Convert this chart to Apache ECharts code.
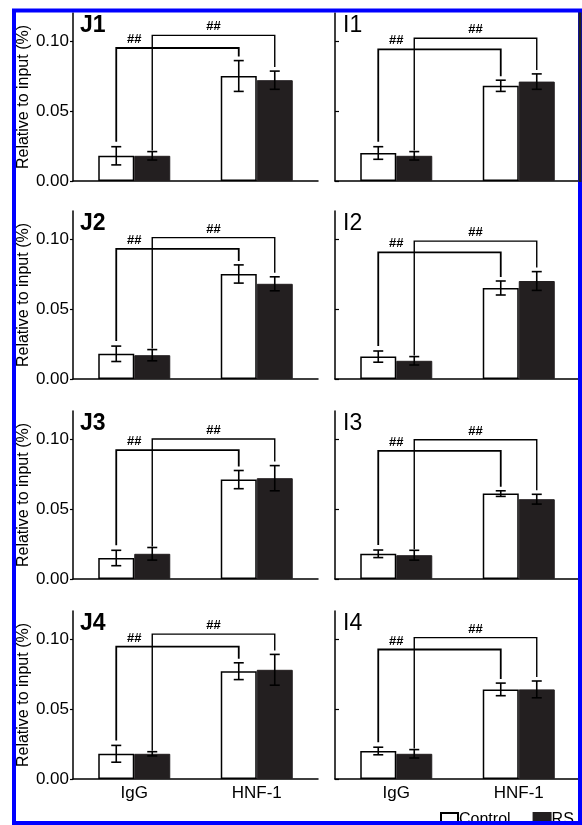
<!DOCTYPE html>
<html><head><meta charset="utf-8">
<script src="https://cdn.jsdelivr.net/npm/echarts@6/dist/echarts.min.js"></script>
<style>html,body{margin:0;padding:0;background:#fff}#c{width:582px;height:825px}</style>
</head><body><div id="c"></div>
<script>
// ---- data ----
const categories = ['IgG', 'HNF-1'];
const seriesNames = ['Control', 'RS'];
const yTicks = [0, 0.05, 0.10];
const yAxisName = 'Relative to input (%)';
const sigLabel = '##';
const panelLabels = ['J1', 'I1', 'J2', 'I2', 'J3', 'I3', 'J4', 'I4'];

const J1_control = [0.018, 0.075];
const J1_controlErr = [0.0065, 0.011];
const J1_rs = [0.018, 0.072];
const J1_rsErr = [0.003, 0.0065];
const J1_brackets = [0.095, 0.104];

const I1_control = [0.020, 0.068];
const I1_controlErr = [0.0045, 0.004];
const I1_rs = [0.018, 0.071];
const I1_rsErr = [0.003, 0.0055];
const I1_brackets = [0.094, 0.102];

const J2_control = [0.018, 0.075];
const J2_controlErr = [0.0055, 0.0065];
const J2_rs = [0.017, 0.068];
const J2_rsErr = [0.004, 0.005];
const J2_brackets = [0.093, 0.101];

const I2_control = [0.016, 0.065];
const I2_controlErr = [0.004, 0.005];
const I2_rs = [0.013, 0.070];
const I2_rsErr = [0.003, 0.0067];
const I2_brackets = [0.0905, 0.0985];

const J3_control = [0.015, 0.071];
const J3_controlErr = [0.0055, 0.0065];
const J3_rs = [0.018, 0.072];
const J3_rsErr = [0.0045, 0.009];
const J3_brackets = [0.092, 0.100];

const I3_control = [0.018, 0.061];
const I3_controlErr = [0.0027, 0.002];
const I3_rs = [0.017, 0.057];
const I3_rsErr = [0.0035, 0.0035];
const I3_brackets = [0.0915, 0.0995];

const J4_control = [0.018, 0.077];
const J4_controlErr = [0.006, 0.006];
const J4_rs = [0.018, 0.078];
const J4_rsErr = [0.0015, 0.011];
const J4_brackets = [0.0945, 0.1035];

const I4_control = [0.020, 0.064];
const I4_controlErr = [0.0027, 0.0045];
const I4_rs = [0.018, 0.064];
const I4_rsErr = [0.003, 0.006];
const I4_brackets = [0.0925, 0.101];

const panels = [
  [J1_control, J1_controlErr, J1_rs, J1_rsErr, J1_brackets],
  [I1_control, I1_controlErr, I1_rs, I1_rsErr, I1_brackets],
  [J2_control, J2_controlErr, J2_rs, J2_rsErr, J2_brackets],
  [I2_control, I2_controlErr, I2_rs, I2_rsErr, I2_brackets],
  [J3_control, J3_controlErr, J3_rs, J3_rsErr, J3_brackets],
  [I3_control, I3_controlErr, I3_rs, I3_rsErr, I3_brackets],
  [J4_control, J4_controlErr, J4_rs, J4_rsErr, J4_brackets],
  [I4_control, I4_controlErr, I4_rs, I4_rsErr, I4_brackets]
];

// ---- layout / style ----
const FONT = '"Liberation Sans", Arial, Helvetica, sans-serif';
const BAR_W = 36;
const HALF = BAR_W / 2;
const baselines = [181, 379, 579, 779];
const GRID_H = 168;
const GRID_W = 245;
const DARK = '#231f20';

function errRender(params, api) {
  const cat = api.value(0), m = api.value(1), e = api.value(2), which = api.value(3);
  const off = which === 0 ? -HALF : HALF;
  const cx = api.coord([cat, m])[0] + off;
  const yt = api.coord([cat, m + e])[1];
  const yb = api.coord([cat, m - e])[1];
  const cap = 5;
  const st = { stroke: '#000', lineWidth: 1.6, fill: null };
  return {
    type: 'group',
    children: [
      { type: 'line', shape: { x1: cx, y1: yt, x2: cx, y2: yb }, style: st },
      { type: 'line', shape: { x1: cx - cap, y1: yt, x2: cx + cap, y2: yt }, style: st },
      { type: 'line', shape: { x1: cx - cap, y1: yb, x2: cx + cap, y2: yb }, style: st }
    ]
  };
}

function bracketRender(params, api) {
  const h = api.value(1), igTop = api.value(2), hnTop = api.value(3), which = api.value(4);
  const off = which === 0 ? -HALF : HALF;
  const x1 = api.coord([0, h])[0] + off;
  const x2 = api.coord([1, h])[0] + off;
  const yh = api.coord([0, h])[1];
  const y1 = api.coord([0, igTop])[1] - (which === 0 ? 5 : 1);
  const y2 = api.coord([1, hnTop])[1] - 4;
  const labelX = which === 0 ? x1 + HALF : (x1 + x2) / 2;
  return {
    type: 'group',
    children: [
      { type: 'polyline', shape: { points: [[x1, y1], [x1, yh], [x2, yh], [x2, y2]] },
        style: { stroke: '#000', lineWidth: which === 0 ? 1.8 : 1.4, fill: null } },
      { type: 'text', style: { text: sigLabel, x: labelX, y: yh - 2, align: 'center', verticalAlign: 'bottom',
        textAlign: 'center', textVerticalAlign: 'bottom', font: 'bold 13px ' + FONT, fill: '#000' } }
    ]
  };
}

const grids = [], xAxes = [], yAxes = [], series = [], titles = [];
panels.forEach((p, i) => {
  const [ctrl, ctrlErr, rs, rsErr, br] = p;
  const row = Math.floor(i / 2), col = i % 2;
  const top = baselines[row] - GRID_H;
  const left = col === 0 ? 73 : 335;
  grids.push({ left: left, top: top, width: GRID_W, height: GRID_H });
  xAxes.push({
    type: 'category', gridIndex: i, data: categories,
    axisLine: { lineStyle: { color: '#000', width: 1.5 } },
    axisTick: { show: false },
    axisLabel: { show: row === 3, color: '#000', fontSize: 17, fontFamily: FONT, margin: 6 }
  });
  yAxes.push({
    type: 'value', gridIndex: i, min: 0, max: 0.12, interval: 0.05,
    name: col === 0 ? yAxisName : '',
    nameLocation: 'middle', nameGap: 41,
    nameTextStyle: { color: '#000', fontSize: 16, fontFamily: FONT },
    axisLine: { show: true, lineStyle: { color: '#000', width: 1.5 } },
    axisTick: { show: true, inside: col === 1, length: col === 0 ? 3 : 4, customValues: yTicks,
      lineStyle: { color: '#000', width: 1.2 } },
    axisLabel: { show: col === 0, customValues: yTicks, color: '#000', fontSize: 17, fontFamily: FONT, margin: 4,
      formatter: v => v.toFixed(2) },
    splitLine: { show: false }
  });
  titles.push({
    text: panelLabels[i], left: col === 0 ? 80 : 343, top: top + 1, padding: 0,
    textStyle: { fontSize: 23, fontWeight: col === 0 ? 'bold' : 'normal', color: '#000', fontFamily: FONT }
  });
  series.push({
    type: 'bar', name: seriesNames[0], xAxisIndex: i, yAxisIndex: i, data: ctrl,
    barWidth: BAR_W, barGap: '0%',
    itemStyle: { color: '#fff', borderColor: '#000', borderWidth: 1.5 }, z: 2
  });
  series.push({
    type: 'bar', name: seriesNames[1], xAxisIndex: i, yAxisIndex: i, data: rs,
    barWidth: BAR_W, barGap: '0%',
    itemStyle: { color: DARK, borderColor: DARK, borderWidth: 1 }, z: 2
  });
  series.push({
    type: 'custom', xAxisIndex: i, yAxisIndex: i, renderItem: errRender, z: 3,
    encode: { x: 0, y: 1 }, silent: true,
    data: [
      [0, ctrl[0], ctrlErr[0], 0], [1, ctrl[1], ctrlErr[1], 0],
      [0, rs[0], rsErr[0], 1], [1, rs[1], rsErr[1], 1]
    ]
  });
  series.push({
    type: 'custom', xAxisIndex: i, yAxisIndex: i, renderItem: bracketRender, z: 4,
    encode: { x: 0, y: 1 }, silent: true,
    data: [
      [0, br[0], ctrl[0] + ctrlErr[0], ctrl[1] + ctrlErr[1], 0],
      [0, br[1], rs[0] + rsErr[0], rs[1] + rsErr[1], 1]
    ]
  });
});

const chart = echarts.init(document.getElementById('c'), null, { renderer: 'canvas' });
chart.setOption({
  animation: false,
  backgroundColor: '#fff',
  title: titles,
  grid: grids,
  xAxis: xAxes,
  yAxis: yAxes,
  legend: {
    data: seriesNames, left: 440, top: 812, width: 220, padding: 0, orient: 'horizontal',
    itemWidth: 17, itemHeight: 14, itemGap: 22,
    icon: 'rect', selectedMode: false,
    textStyle: { fontSize: 16, color: '#000', fontFamily: FONT, padding: [0, 0, 0, -4] }
  },
  graphic: [
    { type: 'rect', z: 100, shape: { x: 14, y: 10.5, width: 566, height: 812.5 },
      style: { fill: null, stroke: '#0000ff', lineWidth: 4 } },
    { type: 'rect', z: 99, shape: { x: 582, y: 0, width: 20, height: 825 },
      style: { fill: '#fff' } },
    { type: 'line', z: 101, shape: { x1: 580, y1: 12.5, x2: 580, y2: 182 },
      style: { stroke: '#222', lineWidth: 3 } }
  ],
  series: series
});
</script>
</body></html>
